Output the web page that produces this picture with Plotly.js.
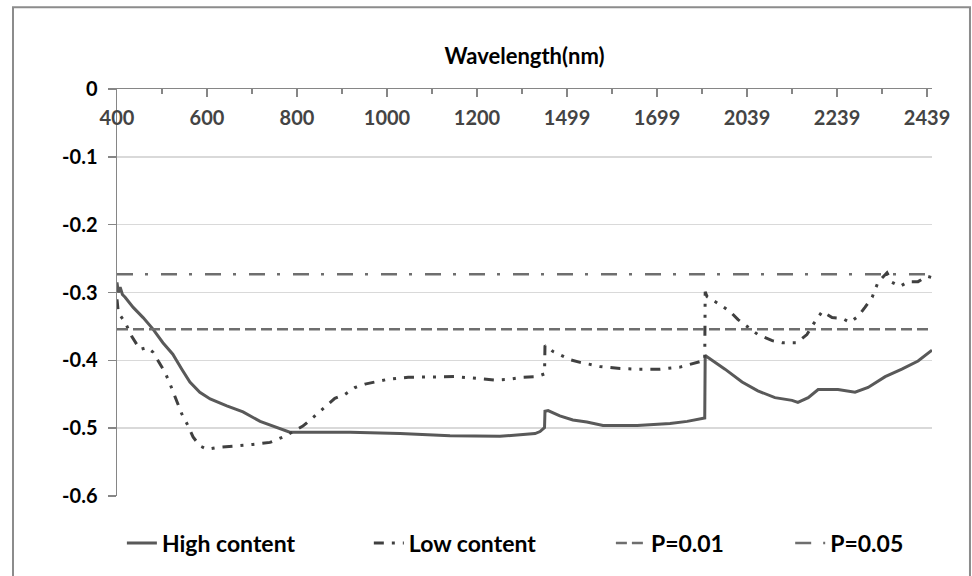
<!DOCTYPE html>
<html>
<head>
<meta charset="utf-8">
<script src="https://cdn.plot.ly/plotly-3.0.1.min.js"></script>
<style>
  html, body { margin: 0; padding: 0; background: #ffffff; }
  #chart { width: 972px; height: 576px; }
</style>
</head>
<body>
<div id="chart"></div>
<script>
// Wavelength bands kept in the spectrum (water-absorption bands removed)
const bands = [[400, 1350], [1450, 1805], [1946, 2450]];

// Tick labels on the (top) category axis
const tickLabels = [400, 600, 800, 1000, 1200, 1499, 1699, 2039, 2239, 2439];
const minorTickLabels = [500, 700, 900, 1100, 1300, 1599, 1799, 2139, 2339];

// High content series (wavelength nm, correlation)
const highWl = [400, 403, 407, 412, 418, 436, 458, 480, 502, 524, 544, 562, 584, 607, 644, 680, 718, 756, 784, 829, 918, 1029, 1140, 1251, 1296, 1329, 1340, 1347, 1350,
                1450, 1457, 1483, 1512, 1543, 1579, 1655, 1728, 1766, 1799, 1805,
                1946, 1979, 1990, 2028, 2063, 2101, 2139, 2152, 2175, 2197, 2241, 2279, 2308, 2346, 2383, 2419, 2446, 2450];
const highVal = [-0.285, -0.300, -0.292, -0.303, -0.307, -0.322, -0.337, -0.354, -0.374, -0.391, -0.413, -0.432, -0.447, -0.457, -0.467, -0.476, -0.490, -0.499, -0.506, -0.506, -0.506, -0.508, -0.511, -0.512, -0.510, -0.508, -0.505, -0.500, -0.499,
                 -0.475, -0.474, -0.482, -0.488, -0.491, -0.496, -0.496, -0.493, -0.490, -0.486, -0.485,
                 -0.393, -0.408, -0.413, -0.432, -0.445, -0.455, -0.459, -0.462, -0.455, -0.443, -0.443, -0.447, -0.440, -0.424, -0.413, -0.401, -0.387, -0.385];

// Low content series
const lowWl = [400, 403, 418, 433, 451, 467, 480, 496, 507, 518, 529, 544, 556, 569, 584, 600, 629, 667, 702, 740, 769, 789, 813, 836, 851, 862, 884, 907, 929, 951, 978, 1002, 1047, 1100, 1151, 1189, 1240, 1269, 1300, 1333, 1347, 1350,
               1450, 1468, 1506, 1528, 1572, 1617, 1655, 1706, 1750, 1788, 1805,
               1946, 1950, 1979, 2001, 2019, 2046, 2063, 2095, 2117, 2150, 2172, 2186, 2206, 2228, 2250, 2268, 2286, 2301, 2317, 2330, 2350, 2361, 2379, 2397, 2419, 2439, 2450];
const lowVal = [-0.310, -0.330, -0.344, -0.365, -0.384, -0.381, -0.388, -0.406, -0.418, -0.435, -0.454, -0.479, -0.494, -0.513, -0.526, -0.531, -0.528, -0.526, -0.524, -0.521, -0.513, -0.506, -0.497, -0.484, -0.475, -0.469, -0.456, -0.450, -0.440, -0.435, -0.431, -0.428, -0.425, -0.424, -0.424, -0.426, -0.429, -0.428, -0.425, -0.424, -0.421, -0.420,
                -0.378, -0.387, -0.399, -0.403, -0.409, -0.412, -0.413, -0.413, -0.410, -0.403, -0.400,
                -0.299, -0.306, -0.318, -0.328, -0.340, -0.354, -0.362, -0.371, -0.374, -0.374, -0.362, -0.347, -0.328, -0.337, -0.338, -0.344, -0.335, -0.322, -0.307, -0.285, -0.271, -0.285, -0.291, -0.284, -0.284, -0.276, -0.278];

// Significance thresholds
const p01 = -0.354;
const p05 = -0.273;

// Full ordered category list for the axis
const categories = [];
bands.forEach(([a, b]) => { for (let w = a; w <= b; w++) categories.push(w); });
const firstWl = categories[0];
const lastWl = categories[categories.length - 1];

const gray = '#595959';
const fontFamily = 'Lato, "Open Sans", sans-serif';

const traces = [
  { x: highWl, y: highVal, name: 'High content', type: 'scatter', mode: 'lines', legend: 'legend',
    line: { color: gray, width: 3 } },
  { x: lowWl, y: lowVal, name: 'Low content', type: 'scatter', mode: 'lines', legend: 'legend2',
    line: { color: '#404040', width: 3, dash: '10px,8px,3px,8px,3px,8px' } },
  { x: [firstWl, lastWl], y: [p01, p01], name: 'P=0.01', type: 'scatter', mode: 'lines', legend: 'legend3',
    line: { color: '#6e6e6e', width: 2.5, dash: '11px,5px' } },
  { x: [firstWl, lastWl], y: [p05, p05], name: 'P=0.05', type: 'scatter', mode: 'lines', legend: 'legend4',
    line: { color: '#6e6e6e', width: 2.5, dash: '16px,12px,3px,13px' } }
];

const legendBase = (x) => ({
  orientation: 'h', x: x, xanchor: 'left', y: -0.113, yanchor: 'middle',
  font: { family: fontFamily, size: 23, weight: 700 }, bgcolor: 'rgba(0,0,0,0)'
});

const layout = {
  width: 972, height: 576,
  margin: { l: 117, r: 40, t: 89, b: 79 },
  paper_bgcolor: '#ffffff', plot_bgcolor: '#ffffff',
  font: { family: fontFamily, size: 20, color: '#000000', weight: 700 },
  showlegend: true,
  legend: legendBase(0.006),
  legend2: legendBase(0.309),
  legend3: legendBase(0.606),
  legend4: legendBase(0.826),
  xaxis: {
    type: 'category', categoryorder: 'array', categoryarray: categories,
    range: [0, categories.length - 1], autorange: false,
    side: 'top', anchor: 'y',
    tickmode: 'array', tickvals: tickLabels, ticktext: tickLabels.map(String),
    ticks: 'inside', ticklen: 8, tickcolor: '#868686', tickwidth: 1.5,
    ticklabelposition: 'inside', ticklabelstandoff: 15, ticklabeloverflow: 'allow',
    tickfont: { family: fontFamily, size: 20, weight: 700 },
    minor: { tickmode: 'array', tickvals: minorTickLabels, ticks: 'inside', ticklen: 5, tickcolor: '#868686', tickwidth: 1.5, showgrid: false },
    showline: true, linecolor: '#868686', linewidth: 1.5,
    showgrid: false, zeroline: false,
    title: { text: 'Wavelength(nm)', standoff: 34, font: { family: fontFamily, size: 22, weight: 700 } }
  },
  yaxis: {
    range: [-0.6, 0], autorange: false,
    tickmode: 'array', tickvals: [0, -0.1, -0.2, -0.3, -0.4, -0.5, -0.6],
    ticktext: ['0', '-0.1', '-0.2', '-0.3', '-0.4', '-0.5', '-0.6'],
    ticks: 'outside', ticklen: 8, tickcolor: '#868686', tickwidth: 1.5,
    tickfont: { family: fontFamily, size: 20, weight: 700 },
    ticklabelstandoff: 6, ticklabeloverflow: 'allow',
    showline: true, linecolor: '#868686', linewidth: 1.5,
    showgrid: true, gridcolor: '#d9d9d9', gridwidth: 1.5,
    zeroline: false
  },
  shapes: [
    { type: 'rect', xref: 'paper', yref: 'paper',
      x0: -0.1276, x1: 1.0466, y0: -0.2, y1: 1.201,
      line: { color: '#8c8c8c', width: 2 }, fillcolor: 'rgba(0,0,0,0)', layer: 'below' }
  ]
};

Plotly.newPlot('chart', traces, layout, { staticPlot: true, displayModeBar: false });
</script>
</body>
</html>
